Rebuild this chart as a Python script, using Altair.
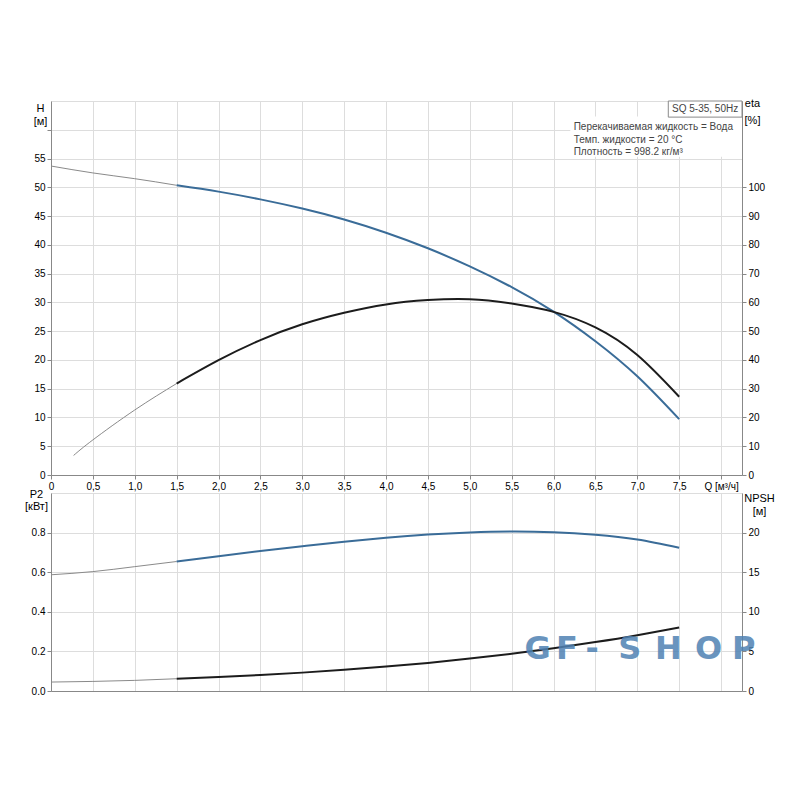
import altair as alt
import pandas as pd

# ---------------- data ----------------
Q_low = [0.0, 0.5, 1.0, 1.5]
Q_eta_low = [0.27, 0.5, 1.0, 1.5]
Q_main = [1.5, 2.0, 2.5, 3.0, 3.5, 4.0, 4.5, 5.0, 5.5, 6.0, 6.5, 7.0, 7.5]

H_low = [53.7, 52.5, 51.5, 50.35]
H_main = [50.35, 49.25, 47.9, 46.3, 44.4, 42.1, 39.4, 36.25, 32.65, 28.4, 23.25, 17.15, 9.7]

eta_low = [6.8, 12.2, 22.6, 31.8]
eta_main = [31.8, 39.9, 46.9, 52.4, 56.4, 59.3, 60.8, 61.1, 59.6, 56.7, 51.3, 41.7, 27.2]

P2_low = [0.587, 0.603, 0.628, 0.654]
P2_main = [0.654, 0.681, 0.707, 0.731, 0.754, 0.774, 0.790, 0.801, 0.806, 0.802, 0.789, 0.765, 0.723]

NPSH_low = [1.13, 1.21, 1.34, 1.55]
NPSH_main = [1.55, 1.77, 2.02, 2.32, 2.67, 3.08, 3.55, 4.09, 4.70, 5.40, 6.18, 7.05, 8.03]

x_ticks = [0.0, 0.5, 1.0, 1.5, 2.0, 2.5, 3.0, 3.5, 4.0, 4.5, 5.0, 5.5, 6.0, 6.5, 7.0, 7.5, 8.0]
H_ticks = [0, 5, 10, 15, 20, 25, 30, 35, 40, 45, 50, 55, 60]
eta_ticks = [0, 10, 20, 30, 40, 50, 60, 70, 80, 90, 100]
P2_ticks = [0.0, 0.2, 0.4, 0.6, 0.8]
NPSH_ticks = [0, 5, 10, 15, 20]

info_lines = ["Перекачиваемая жидкость = Вода", "Темп. жидкости = 20 °C", "Плотность = 998.2 кг/м³"]
info_H = [60.4, 58.3, 56.2]
info_Q = 6.24
model_label = "SQ 5-35, 50Hz"

wm_letters = ["G", "F", "-", "S", "H", "O", "P"]
wm_Q = [5.81, 6.16, 6.46, 6.91, 7.37, 7.85, 8.27]
wm_NPSH = 4.0

# ---------------- styles ----------------
FONT = "Liberation Sans"
TXT = "#555555"
AX = "#666666"
GRID = "#d2d2d2"
BLUE = "#3a6c98"
BLACK = "#1c1c1c"
THIN = "#8a8a8a"
INTERP = "natural"

x_scale = alt.Scale(domain=[0, 8.25], nice=False, zero=False)
x_label_expr = ("datum.value == 0 ? '0' : (datum.value == 8 ? 'Q [м³/ч]' : "
                "replace(format(datum.value, '.1f'), '.', ','))")

x_axis_top = alt.Axis(values=x_ticks, labelExpr=x_label_expr, title=None, grid=True,
                      tickSize=4, labelPadding=2, labelFlush=False)
x_axis_bot = alt.Axis(values=x_ticks, labels=False, ticks=False, title=None, grid=True)

H_scale = alt.Scale(domain=[0, 65], nice=False, zero=True)
H_axis = alt.Axis(values=H_ticks, labelExpr="datum.value > 55 ? '' : datum.label",
                  title=["H", "[м]"], titleAngle=0, titleAlign="center", titleBaseline="top",
                  titleX=-11, titleY=1, titleLineHeight=13, titleFontWeight="normal",
                  grid=True, tickSize=4)
eta_scale = alt.Scale(domain=[0, 130], nice=False, zero=True)
eta_axis = alt.Axis(values=eta_ticks, orient="right", title=["eta", "[%]"], titleAngle=0,
                    titleAlign="center", titleBaseline="top", titleX=10, titleY=-4,
                    titleLineHeight=17, titleFontWeight="normal", grid=False, tickSize=4)

P2_scale = alt.Scale(domain=[0, 1.0], nice=False, zero=True)
P2_axis = alt.Axis(values=P2_ticks, format=".1f", title=["P2", "[кВт]"], titleAngle=0,
                   titleAlign="center", titleBaseline="top", titleX=-15, titleY=-5,
                   titleLineHeight=12, titleFontWeight="normal", grid=True, tickSize=4)
NPSH_scale = alt.Scale(domain=[0, 25], nice=False, zero=True)
NPSH_axis = alt.Axis(values=NPSH_ticks, orient="right", title=["NPSH", "[м]"], titleAngle=0,
                     titleAlign="center", titleBaseline="top", titleX=17, titleY=-1,
                     titleLineHeight=13, titleFontWeight="normal", grid=False, tickSize=4)


def curve(qs, vals, name, color, width):
    df = pd.DataFrame({"Q": qs, name: vals})
    return alt.Chart(df).mark_line(color=color, strokeWidth=width, interpolate=INTERP)


# ---------------- top panel ----------------
def xt(field="Q"):
    return alt.X(f"{field}:Q", scale=x_scale, axis=x_axis_top)


def yH(field):
    return alt.Y(f"{field}:Q", scale=H_scale, axis=H_axis)


def yeta(field):
    return alt.Y(f"{field}:Q", scale=eta_scale, axis=eta_axis)


H_thin = curve(Q_low, H_low, "H", THIN, 1).encode(x=xt(), y=yH("H"))
H_thick = curve(Q_main, H_main, "H", BLUE, 2).encode(x=xt(), y=yH("H"))

info_bg = alt.Chart(pd.DataFrame({"Q": [6.2], "Q2": [8.25], "H": [62.3], "H2": [55.3]})).mark_rect(
    fill="white").encode(x=xt(), x2="Q2:Q", y=yH("H"), y2="H2:Q")
box = alt.Chart(pd.DataFrame({"Q": [7.37], "Q2": [8.25], "H": [65.0], "H2": [62.2],
                              "t": [model_label], "Qc": [7.81], "Hc": [63.6]}))
box_rect = box.mark_rect(fill="white", stroke="#8a8a8a", strokeWidth=1).encode(
    x=xt(), x2="Q2:Q", y=yH("H"), y2="H2:Q")
box_text = box.mark_text(font=FONT, fontSize=10, color="#444444", align="center",
                         baseline="middle").encode(x=xt("Qc"), y=yH("Hc"), text="t:N")
info_text = alt.Chart(pd.DataFrame({"Q": [info_Q] * 3, "H": info_H, "t": info_lines})).mark_text(
    font=FONT, fontSize=10, color="#444444", align="left", baseline="middle").encode(
    x=xt(), y=yH("H"), text="t:N")

left_top = alt.layer(H_thin, H_thick, info_bg, box_rect, box_text, info_text)

eta_thin = curve(Q_eta_low, eta_low, "eta", THIN, 1).encode(x=xt(), y=yeta("eta"))
eta_thick = curve(Q_main, eta_main, "eta", BLACK, 2).encode(x=xt(), y=yeta("eta"))
right_top = alt.layer(eta_thin, eta_thick)

top = alt.layer(left_top, right_top).resolve_scale(y="independent").properties(width=691, height=374)


# ---------------- bottom panel ----------------
def xb():
    return alt.X("Q:Q", scale=x_scale, axis=x_axis_bot)


def yP2(field):
    return alt.Y(f"{field}:Q", scale=P2_scale, axis=P2_axis)


def yN(field):
    return alt.Y(f"{field}:Q", scale=NPSH_scale, axis=NPSH_axis)


P2_thin = curve(Q_low, P2_low, "P2", THIN, 1).encode(x=xb(), y=yP2("P2"))
P2_thick = curve(Q_main, P2_main, "P2", BLUE, 2).encode(x=xb(), y=yP2("P2"))
left_bot = alt.layer(P2_thin, P2_thick)

N_thin = curve(Q_low, NPSH_low, "NPSH", THIN, 1).encode(x=xb(), y=yN("NPSH"))
N_thick = curve(Q_main, NPSH_main, "NPSH", BLACK, 2).encode(x=xb(), y=yN("NPSH"))
wm = alt.Chart(pd.DataFrame({"Q": wm_Q, "NPSH": [wm_NPSH] * len(wm_Q), "t": wm_letters})).mark_text(
    font="DejaVu Sans", fontWeight="bold", fontSize=32, color="#4f82b3", opacity=0.85,
    align="center", baseline="alphabetic").encode(x=xb(), y=yN("NPSH"), text="t:N")
right_bot = alt.layer(N_thin, N_thick, wm)

bottom = alt.layer(left_bot, right_bot).resolve_scale(y="independent").properties(width=691, height=198)

chart = alt.vconcat(top, bottom, spacing=18, bounds="flush").properties(
    padding={"left": 16, "top": 88, "right": 10, "bottom": 10}
).configure_view(stroke=AX, strokeWidth=1).configure_axis(
    labelFont=FONT, titleFont=FONT, labelFontSize=10, titleFontSize=10,
    labelColor=TXT, titleColor=TXT, titleFontWeight="normal",
    domainColor=AX, tickColor=AX, gridColor=GRID, gridWidth=1
).configure(background="white")

chart.save("out.html", embed_options={"renderer": "svg", "actions": False})
